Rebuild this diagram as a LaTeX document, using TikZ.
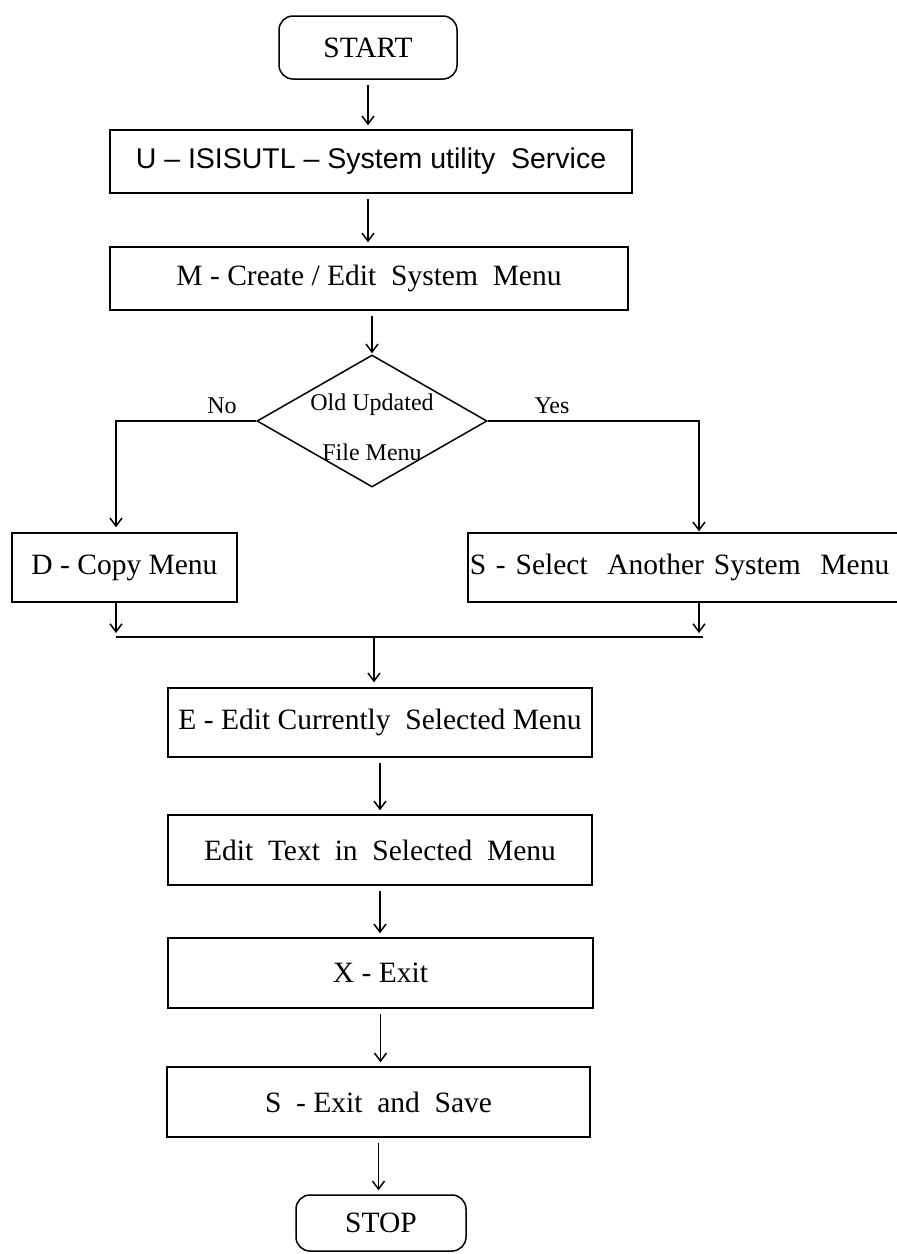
\documentclass[tikz,border=0pt]{standalone}
\usepackage{fontspec}
\setmainfont{Liberation Serif}
\newfontfamily\sansf{Liberation Sans}
\usetikzlibrary{shapes.geometric,arrows.meta}
\begin{document}
\begin{tikzpicture}[x=1pt,y=-1pt,
  box/.style={draw, line width=1.5pt, inner sep=0pt, font=\fontsize{29.5}{34}\selectfont},
  term/.style={box, rounded corners=14pt},
  arr/.style={line width=1.5pt, -{Straight Barb[length=8pt,width=12pt,line width=1.5pt]}, shorten >=4pt, shorten <=5pt},
  ln/.style={line width=1.5pt},
  lbl/.style={font=\fontsize{24}{28}\selectfont, inner sep=0pt}]
\useasboundingbox (0,0) rectangle (897,1254);
\node[term, minimum width=178pt, minimum height=63pt] (start) at (368,47.5) {START};
\node[box, minimum width=522pt, minimum height=63pt, font=\sansf\fontsize{28.5}{32}\selectfont] (u) at (371,161.5) {U – ISISUTL – System utility~ Service};
\node[box, minimum width=518pt, minimum height=63pt] (m) at (369,278.5) {M - Create / Edit~ System~ Menu};
\node[draw, diamond, line width=1.5pt, minimum width=230pt, minimum height=132pt, inner sep=0pt] (dia) at (372,421) {};
\node[lbl, align=center, font=\fontsize{24}{50}\selectfont] (diatext) at (372,427) {Old Updated\\File Menu};
\node[box, minimum width=225pt, minimum height=69pt] (d) at (124.5,567.5) {D - Copy Menu};
\node[box, anchor=west, minimum height=69pt, text width=426pt, inner xsep=2pt, align=left] (s) at (467,567.5) {S - Select~ Another System~ Menu};
\node[box, minimum width=424pt, minimum height=69pt] (e) at (380,722.5) {E - Edit Currently~ Selected Menu};
\node[box, minimum width=424pt, minimum height=70pt] (edit) at (380,850) {Edit~ Text~ in~ Selected~ Menu};
\node[box, minimum width=425pt, minimum height=70pt] (x) at (380.5,973) {X - Exit};
\node[box, minimum width=423pt, minimum height=70pt] (sx) at (378.5,1102) {S~ - Exit~ and~ Save};
\node[term, minimum width=170pt, minimum height=56pt] (stop) at (381,1223) {STOP};
\node[lbl] (no) at (222,406) {No};
\node[lbl] (yes) at (552,406) {Yes};
\coordinate (nc) at (116,421);
\coordinate (yc) at (699,421);
\coordinate (ml) at (116,637);
\coordinate (mr) at (703,637);
\coordinate (mc) at (374,637);
\draw[arr] (start.south) -- (start.south |- u.north);
\draw[arr] (u.south -| start.south) -- (start.south |- m.north);
\draw[arr, shorten >=1pt] (m.south -| dia.north) -- (dia.north);
\draw[arr, shorten <=0pt, shorten >=5pt] (dia.west) -- (nc) -- (nc |- d.north);
\draw[arr, shorten <=0pt, shorten >=1pt] (dia.east) -- (yc) -- (yc |- s.north);
\draw[ln] (ml) -- (mr);
\draw[arr, shorten <=0pt] (d.south -| ml) -- (ml);
\draw[arr, shorten <=0pt] (s.south -| yc) -- (yc |- ml);
\draw[arr, shorten <=0pt, shorten >=5pt] (mc) -- (mc |- e.north);
\draw[arr] (e.south) -- (e.south |- edit.north);
\draw[arr] (edit.south) -- (edit.south |- x.north);
\draw[arr] (x.south) -- (x.south |- sx.north);
\draw[arr] (sx.south) -- (sx.south |- stop.north);
\end{tikzpicture}
\end{document}
